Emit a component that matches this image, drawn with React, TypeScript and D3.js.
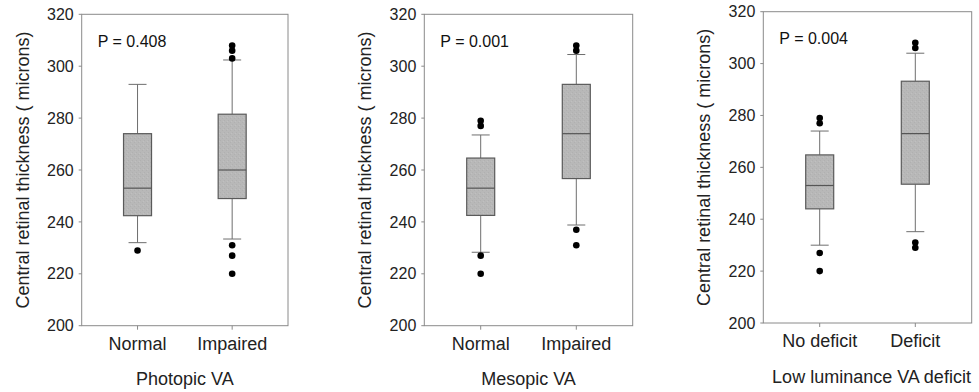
import * as d3 from "d3";

// values (microns)
const yTicks = [200, 220, 240, 260, 280, 300, 320];
const yTitle = "Central retinal thickness ( microns)";

const panelTitles = ["Photopic VA", "Mesopic VA", "Low luminance VA deficit"];
const panelPValues = ["P = 0.408", "P = 0.001", "P = 0.004"];
const panelGroups = [
  ["Normal", "Impaired"],
  ["Normal", "Impaired"],
  ["No deficit", "Deficit"],
];

// [whiskerLow, q1, median, q3, whiskerHigh]
const photopicStats = [
  [232, 242.4, 253, 274, 293],
  [233.4, 249, 260, 281.5, 302.4],
];
const mesopicStats = [
  [228.3, 242.5, 253, 264.6, 273.5],
  [238.8, 256.7, 274, 293, 304.5],
];
const lowLumStats = [
  [230, 244, 253, 264.8, 274],
  [235.2, 253.5, 273, 293.2, 304],
];

const photopicOutliers = [[229], [308, 306, 303, 231, 227, 220]];
const mesopicOutliers = [[279, 277, 227, 220], [308, 306, 237, 231]];
const lowLumOutliers = [[279, 277, 227, 220], [308, 306, 231, 229]];

const panelStats = [photopicStats, mesopicStats, lowLumStats];
const panelOutliers = [photopicOutliers, mesopicOutliers, lowLumOutliers];

// frame of each panel in page pixels
const frames = [
  { left: 81.7, right: 288, top: 14.3, bottom: 325.7 },
  { left: 424.3, right: 632.7, top: 14.3, bottom: 325.7 },
  { left: 763.3, right: 971.7, top: 11.7, bottom: 323 },
];

const W = 979;
const H = 392;
const FONT = "'Liberation Sans', Arial, sans-serif";

function Panel({ idx }: { idx: number }) {
  const f = frames[idx];
  const y = d3.scaleLinear([200, 320], [f.bottom, f.top]);
  const x = d3
    .scalePoint<string>()
    .domain(panelGroups[idx])
    .range([f.left, f.right])
    .padding(0.59);
  const boxW = 28;
  const capW = 18;
  const cx = (f.left + f.right) / 2;

  return (
    <g>
      {/* frame */}
      <rect
        x={f.left}
        y={f.top}
        width={f.right - f.left}
        height={f.bottom - f.top}
        fill="none"
        stroke="#8a8a8a"
        strokeWidth={1}
      />

      {yTicks.map((t) => (
        <g key={t}>
          <line
            x1={f.left - 3}
            x2={f.left}
            y1={y(t)}
            y2={y(t)}
            stroke="#8a8a8a"
          />
          <text
            x={f.left - 8}
            y={y(t)}
            dy="0.35em"
            textAnchor="end"
            fontSize={16}
            fill="#222"
          >
            {t}
          </text>
        </g>
      ))}

      <text
        transform={`translate(${f.left - 53},${(f.top + f.bottom) / 2}) rotate(-90)`}
        textAnchor="middle"
        fontSize={18}
        fill="#222"
      >
        {yTitle}
      </text>

      <text x={f.left + 16} y={f.top + 32.4} fontSize={16} fill="#111">
        {panelPValues[idx]}
      </text>

      {panelGroups[idx].map((g, gi) => {
        const [wLo, q1, med, q3, wHi] = panelStats[idx][gi];
        const gx = x(g) ?? 0;
        return (
          <g key={g}>
            <line
              x1={gx}
              x2={gx}
              y1={f.bottom}
              y2={f.bottom + 4}
              stroke="#8a8a8a"
            />
            <line x1={gx} x2={gx} y1={y(wHi)} y2={y(q3)} stroke="#6e6e6e" />
            <line x1={gx} x2={gx} y1={y(q1)} y2={y(wLo)} stroke="#6e6e6e" />
            <line
              x1={gx - capW / 2}
              x2={gx + capW / 2}
              y1={y(wHi)}
              y2={y(wHi)}
              stroke="#6e6e6e"
            />
            <line
              x1={gx - capW / 2}
              x2={gx + capW / 2}
              y1={y(wLo)}
              y2={y(wLo)}
              stroke="#6e6e6e"
            />
            <rect
              x={gx - boxW / 2}
              y={y(q3)}
              width={boxW}
              height={y(q1) - y(q3)}
              fill="url(#stipple)"
              stroke="#5a5a5a"
              strokeWidth={1.2}
            />
            <line
              x1={gx - boxW / 2}
              x2={gx + boxW / 2}
              y1={y(med)}
              y2={y(med)}
              stroke="#555"
              strokeWidth={1.2}
            />
            {panelOutliers[idx][gi].map((o, oi) => (
              <circle key={oi} cx={gx} cy={y(o)} r={3.3} fill="#000" />
            ))}
            <text
              x={gx}
              y={f.bottom + 24}
              textAnchor="middle"
              fontSize={18}
              fill="#222"
            >
              {g}
            </text>
          </g>
        );
      })}

      <text
        x={idx === 2 ? cx + 4 : cx}
        y={f.bottom + 59.5}
        textAnchor="middle"
        fontSize={18}
        fill="#222"
      >
        {panelTitles[idx]}
      </text>
    </g>
  );
}

export default function App() {
  return (
    <svg
      width={W}
      height={H}
      viewBox={`0 0 ${W} ${H}`}
      style={{ position: "absolute", left: 0, top: 0, background: "#fff" }}
      fontFamily={FONT}
    >
      <defs>
        <pattern id="stipple" width="4" height="4" patternUnits="userSpaceOnUse">
          <rect width="4" height="4" fill="#b8b8b8" />
          <rect x="0" y="0" width="1" height="1" fill="#b0b0b0" />
          <rect x="2" y="2" width="1" height="1" fill="#b0b0b0" />
          <rect x="3" y="1" width="1" height="1" fill="#c0c0c0" />
        </pattern>
      </defs>
      {frames.map((_, i) => (
        <Panel key={i} idx={i} />
      ))}
    </svg>
  );
}
